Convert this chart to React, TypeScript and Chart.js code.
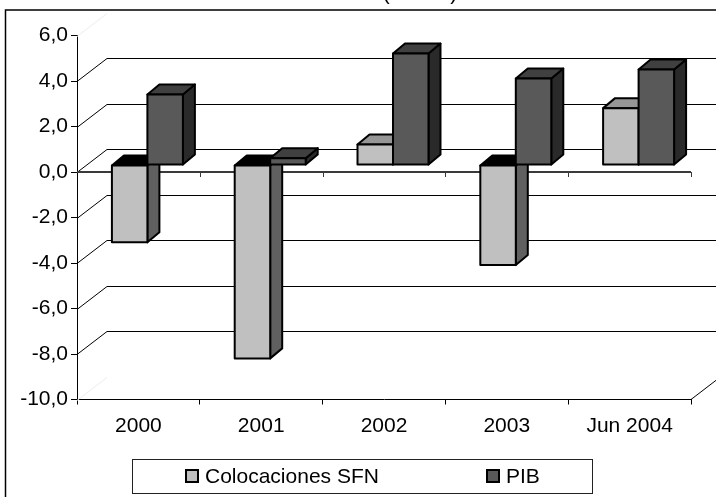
import React, { useEffect, useRef } from 'react';
import { Chart, registerables } from 'chart.js';

Chart.register(...registerables);

// Annual variation (%)
const categories = ['2000', '2001', '2002', '2003', 'Jun 2004'];
const colocacionesSFN = [-3.4, -8.5, 0.9, -4.4, 2.5];
const pib = [3.1, 0.3, 4.9, 3.8, 4.2];
const seriesNames = ['Colocaciones SFN', 'PIB'];
const yTickValues = [-10, -8, -6, -4, -2, 0, 2, 4, 6];
const yTickLabels = ['-10,0', '-8,0', '-6,0', '-4,0', '-2,0', '0,0', '2,0', '4,0', '6,0'];
const titleText = '(Var. %)';

const FONT = '"Liberation Sans", Arial, Helvetica, sans-serif';
const FONT_SIZE = 21;

// Depth of the floor / side wall, in pixels
const WALL_DX = 30;
const WALL_DY = -23;
// Where the bar fronts sit inside that depth, and how deep each bar is
const BAR_OX = 9;
const BAR_OY = -7;
const BAR_DX = 12;
const BAR_DY = -10;

const shades = [
  { front: '#c0c0c0', top: '#969696', side: '#606060' },
  { front: '#595959', top: '#404040', side: '#2a2a2a' },
];

function poly(ctx: CanvasRenderingContext2D, pts: number[][], fill: string) {
  ctx.beginPath();
  ctx.moveTo(pts[0][0], pts[0][1]);
  for (let i = 1; i < pts.length; i++) ctx.lineTo(pts[i][0], pts[i][1]);
  ctx.closePath();
  ctx.fillStyle = fill;
  ctx.fill();
  ctx.stroke();
}

const columns3d = {
  id: 'columns3d',
  beforeDatasetsDraw(chart: any) {
    const { ctx, chartArea, scales } = chart;
    const yScale = scales.y;
    const L = chartArea.left;
    const R = chartArea.right;
    const B = chartArea.bottom;
    ctx.save();

    // side wall and back wall gridlines
    ctx.lineWidth = 1;
    yTickValues.forEach((v) => {
      const py = Math.round(yScale.getPixelForValue(v)) + 0.5;
      const edge = v === yScale.min || v === yScale.max;
      ctx.strokeStyle = edge ? '#ececec' : '#000';
      ctx.beginPath();
      ctx.moveTo(L, py);
      ctx.lineTo(L + WALL_DX, py + WALL_DY);
      if (!edge) ctx.lineTo(R + WALL_DX + 40, py + WALL_DY);
      ctx.stroke();
    });

    // floor right edge
    ctx.strokeStyle = '#000';
    ctx.beginPath();
    ctx.moveTo(R, B);
    ctx.lineTo(R + WALL_DX, B + WALL_DY);
    ctx.stroke();

    // category line at zero with boundary ticks
    const y0 = Math.round(yScale.getPixelForValue(0));
    const n = categories.length;
    const catW = (R - L) / n;
    ctx.strokeStyle = '#3a3a3a';
    ctx.lineWidth = 2;
    ctx.beginPath();
    ctx.moveTo(L, y0);
    ctx.lineTo(R, y0);
    ctx.stroke();
    ctx.lineWidth = 1;
    for (let i = 1; i <= n; i++) {
      const px = Math.round(L + i * catW) + 0.5;
      ctx.beginPath();
      ctx.moveTo(px, y0);
      ctx.lineTo(px, y0 + 5);
      ctx.stroke();
    }

    // 3D columns
    ctx.strokeStyle = '#000';
    ctx.lineWidth = 2;
    ctx.lineJoin = 'round';
    for (let i = 0; i < n; i++) {
      chart.data.datasets.forEach((ds: any, d: number) => {
        const el = chart.getDatasetMeta(d).data[i];
        const { x, y, base, width } = el.getProps(['x', 'y', 'base', 'width'], true);
        const left = x - width / 2 + BAR_OX;
        const right = x + width / 2 + BAR_OX;
        const top = Math.min(y, base) + BAR_OY;
        const bottom = Math.max(y, base) + BAR_OY;
        const s = shades[d];
        const negative = ds.data[i] < 0;
        poly(ctx, [[right, top], [right + BAR_DX, top + BAR_DY], [right + BAR_DX, bottom + BAR_DY], [right, bottom]], s.side);
        poly(ctx, [[left, top], [right, top], [right + BAR_DX, top + BAR_DY], [left + BAR_DX, top + BAR_DY]], negative ? '#000' : s.top);
        poly(ctx, [[left, top], [right, top], [right, bottom], [left, bottom]], s.front);
      });
    }
    ctx.restore();
    return false;
  },
  afterDraw(chart: any) {
    const { ctx } = chart;
    ctx.save();

    // outer frame
    ctx.strokeStyle = '#000';
    ctx.lineWidth = 1.5;
    ctx.strokeRect(5.5, 10, 1000, 1000);

    // title
    ctx.fillStyle = '#000';
    ctx.font = `${FONT_SIZE}px ${FONT}`;
    ctx.textAlign = 'center';
    ctx.textBaseline = 'alphabetic';
    ctx.fillText(titleText, 420, 0);

    // legend
    ctx.lineWidth = 1;
    ctx.strokeStyle = '#222';
    ctx.strokeRect(132.5, 459.5, 460, 34);
    const itemX = [186, 487];
    ctx.textAlign = 'left';
    ctx.textBaseline = 'middle';
    chart.data.datasets.forEach((ds: any, d: number) => {
      ctx.fillStyle = ds.backgroundColor;
      ctx.strokeStyle = '#000';
      ctx.lineWidth = 2;
      ctx.fillRect(itemX[d], 470, 12, 12);
      ctx.strokeRect(itemX[d], 470, 12, 12);
      ctx.fillStyle = '#000';
      ctx.fillText(ds.label, itemX[d] + 19, 477);
    });
    ctx.restore();
  },
};

export default function App() {
  const canvasRef = useRef<HTMLCanvasElement | null>(null);

  useEffect(() => {
    const canvas = canvasRef.current;
    if (!canvas) return;
    const chart = new Chart(canvas, {
      type: 'bar',
      data: {
        labels: categories,
        datasets: [
          { label: seriesNames[0], data: colocacionesSFN, backgroundColor: shades[0].front, borderColor: '#000' },
          { label: seriesNames[1], data: pib, backgroundColor: shades[1].front, borderColor: '#000' },
        ],
      },
      options: {
        animation: false,
        responsive: false,
        maintainAspectRatio: false,
        devicePixelRatio: 1,
        layout: { padding: { top: 35.5, right: 25, bottom: 0, left: 0 } },
        datasets: { bar: { categoryPercentage: 0.578, barPercentage: 1 } },
        plugins: {
          legend: { display: false },
          title: { display: false },
          tooltip: { enabled: false },
        },
        scales: {
          x: {
            offset: true,
            grid: { offset: true, drawOnChartArea: false, tickLength: 5, color: '#000' },
            border: { color: '#000', width: 1 },
            ticks: {
              color: '#000',
              font: { family: FONT, size: FONT_SIZE },
              padding: 9,
              maxRotation: 0,
              autoSkip: false,
            },
            afterFit: (s: any) => {
              s.height = 97.5;
            },
          },
          y: {
            min: -10,
            max: 6,
            afterBuildTicks: (s: any) => {
              s.ticks = yTickValues.map((v) => ({ value: v }));
            },
            grid: { drawOnChartArea: false, tickLength: 6, color: '#000' },
            border: { color: '#000', width: 1 },
            ticks: {
              color: '#000',
              font: { family: FONT, size: FONT_SIZE },
              padding: 3,
              callback: (v: any) => yTickLabels[yTickValues.indexOf(Number(v))],
            },
            afterFit: (s: any) => {
              s.width = 77;
            },
          },
        },
      },
      plugins: [columns3d],
    } as any);
    return () => chart.destroy();
  }, []);

  return (
    <div style={{ position: 'fixed', left: 0, top: 0, width: 716, height: 497, background: '#fff' }}>
      <canvas ref={canvasRef} width={716} height={497} style={{ display: 'block' }} />
    </div>
  );
}
